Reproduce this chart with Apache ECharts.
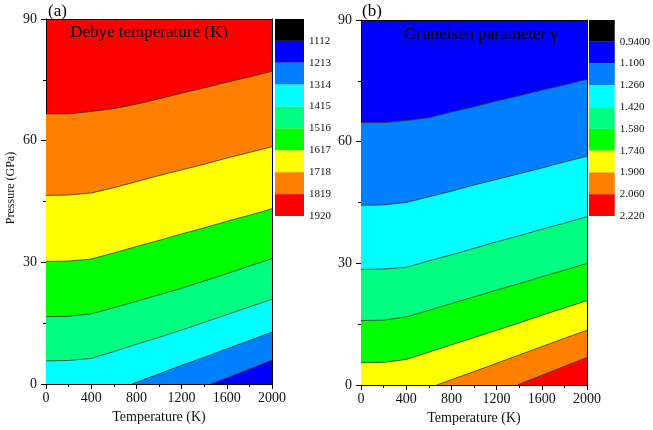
<!DOCTYPE html>
<html>
<head>
<meta charset="utf-8">
<script src="https://cdn.jsdelivr.net/npm/echarts@6/dist/echarts.min.js"></script>
<style>
  html, body { margin: 0; padding: 0; background: #fff; }
  #main { width: 653px; height: 430px; }
</style>
</head>
<body>
<div id="main"></div>
<script>
// 温度 (K)
const tempK = [0, 200, 400, 600, 800, 1000, 1200, 1400, 1600, 1800, 2000];

// 色标
const bandColors = ['#000000', '#0000ff', '#0080ff', '#00ffff', '#00ff80', '#00ff00', '#ffff00', '#ff8000', '#ff0000'];
const debyeLevels = ['1112', '1213', '1314', '1415', '1516', '1617', '1718', '1819', '1920'];
const gammaLevels = ['0.9400', '1.100', '1.260', '1.420', '1.580', '1.740', '1.900', '2.060', '2.220'];

// (a) Debye 温度等值线：每个温度下的压力 (GPa)
const debyeRedOrange    = [66.6, 66.6, 67.2, 67.9, 69.0, 70.3, 71.7, 73.0, 74.4, 75.7, 77.1];
const debyeOrangeYellow = [46.5, 46.6, 47.1, 48.4, 49.9, 51.4, 52.8, 54.2, 55.7, 57.1, 58.5];
const debyeYellowGreen  = [30.2, 30.3, 30.8, 32.3, 33.9, 35.4, 37.0, 38.5, 40.1, 41.6, 43.2];
const debyeGreenSpring  = [16.6, 16.7, 17.3, 18.8, 20.4, 22.0, 23.6, 25.4, 27.2, 29.1, 30.9];
const debyeSpringCyan   = [5.7, 5.8, 6.3, 8.0, 9.8, 11.5, 13.3, 15.2, 17.1, 19.0, 20.9];
const debyeCyanAzureT   = [760, 1000, 1200, 1400, 1600, 1800, 2000];
const debyeCyanAzureP   = [0, 2.5, 4.6, 6.6, 8.7, 10.7, 12.8];
const debyeAzureBlueT   = [1460, 1700, 2000];
const debyeAzureBlueP   = [0, 2.6, 5.9];

// (b) Gruneisen 参数等值线
const gammaBlueAzure    = [64.7, 64.7, 65.2, 65.9, 67.3, 68.6, 70.0, 71.3, 72.7, 74.0, 75.4];
const gammaAzureCyan    = [44.3, 44.4, 45.0, 46.4, 47.8, 49.3, 50.7, 52.1, 53.5, 55.0, 56.4];
const gammaCyanSpring   = [28.5, 28.6, 29.0, 30.6, 32.1, 33.7, 35.3, 36.8, 38.4, 39.9, 41.5];
const gammaSpringGreen  = [15.9, 16.0, 16.8, 18.4, 20.1, 21.7, 23.4, 25.0, 26.7, 28.3, 30.0];
const gammaGreenYellow  = [5.5, 5.6, 6.3, 8.1, 9.9, 11.7, 13.5, 15.3, 17.2, 19.0, 20.8];
const gammaYellowOrangeT = [670, 1000, 1400, 1800, 2000];
const gammaYellowOrangeP = [0, 3.3, 7.4, 11.5, 13.5];
const gammaOrangeRedT   = [1383, 1700, 2000];
const gammaOrangeRedP   = [0, 3.5, 6.8];

const FONT = '"Liberation Serif", "DejaVu Serif", serif';

var myChart = echarts.init(document.getElementById('main'));

// 等值线 + 下方填充
function contour(idx, ts, ps, fill) {
  return {
    type: 'line',
    xAxisIndex: idx,
    yAxisIndex: idx,
    data: ts.map((t, i) => [t, ps[i]]),
    showSymbol: false,
    silent: true,
    lineStyle: { color: '#333', width: 0.8 },
    areaStyle: { color: fill, opacity: 1, origin: 'start' }
  };
}

// 色标方块
function colorBar(idx, stackName) {
  return bandColors.map(c => ({
    type: 'bar',
    xAxisIndex: idx,
    yAxisIndex: idx,
    stack: stackName,
    barWidth: '100%',
    silent: true,
    data: [1],
    itemStyle: { color: c }
  }));
}

function plotX(grid, show) {
  return {
    type: 'value', gridIndex: grid, min: 0, max: 2000, interval: 400,
    position: show ? 'bottom' : 'top',
    axisLine: { show: true, onZero: false, lineStyle: { color: '#000', width: 1 } },
    axisTick: { show: show, length: 5, lineStyle: { color: '#000' } },
    minorTick: { show: show, splitNumber: 2, length: 3, lineStyle: { color: '#000' } },
    axisLabel: { show: show, margin: 7, fontFamily: FONT, fontSize: 14, color: '#111', formatter: v => String(v) },
    splitLine: { show: false },
    name: show ? 'Temperature (K)' : '',
    nameLocation: 'middle',
    nameGap: 26,
    nameTextStyle: { fontFamily: FONT, fontSize: 14, color: '#111' }
  };
}

function plotY(grid, show) {
  return {
    type: 'value', gridIndex: grid, min: 0, max: 90, interval: 30,
    position: show ? 'left' : 'right',
    axisLine: { show: true, onZero: false, lineStyle: { color: '#000', width: 1 } },
    axisTick: { show: show, length: 5, lineStyle: { color: '#000' } },
    minorTick: { show: show, splitNumber: 2, length: 3, lineStyle: { color: '#000' } },
    axisLabel: { show: show, margin: 9, fontFamily: FONT, fontSize: 14, color: '#111', formatter: v => String(v) },
    splitLine: { show: false }
  };
}

function barX(grid) {
  return { type: 'category', gridIndex: grid, data: ['c'], show: false };
}

function barY(grid, levels) {
  return {
    type: 'value', gridIndex: grid, min: 0, max: 9, interval: 1, inverse: true,
    position: 'right',
    axisLine: { show: false },
    axisTick: { show: false },
    splitLine: { show: false },
    axisLabel: {
      margin: 5, fontFamily: FONT, fontSize: 11, color: '#111',
      formatter: v => (v >= 1 ? levels[v - 1] : '')
    }
  };
}

var option = {
  backgroundColor: '#fff',
  animation: false,
  grid: [
    { left: 46, top: 19, width: 226, height: 365, show: true, backgroundColor: '#ff0000', borderWidth: 0 },
    { left: 46, top: 19, width: 226, height: 365 },
    { left: 361, top: 20, width: 226, height: 365, show: true, backgroundColor: '#0000ff', borderWidth: 0 },
    { left: 361, top: 20, width: 226, height: 365 },
    { left: 275, top: 19, width: 29, height: 197 },
    { left: 589, top: 20, width: 29, height: 196 }
  ],
  xAxis: [plotX(0, true), plotX(1, false), plotX(2, true), plotX(3, false), barX(4), barX(5)],
  yAxis: [plotY(0, true), plotY(1, false), plotY(2, true), plotY(3, false), barY(4, debyeLevels), barY(5, gammaLevels)],
  graphic: [
    { type: 'text', x: 48, y: 12, style: { text: '(a)', font: '17px ' + FONT, fill: '#000', textVerticalAlign: 'middle' } },
    { type: 'text', x: 362, y: 12, style: { text: '(b)', font: '17px ' + FONT, fill: '#000', textVerticalAlign: 'middle' } },
    { type: 'text', x: 149, y: 33, z: 100, style: { text: 'Debye temperature (K)', font: '17px ' + FONT, fill: '#000', textAlign: 'center', textVerticalAlign: 'middle' } },
    { type: 'text', x: 481, y: 35, z: 100, style: { text: 'Gruneisen parameter γ', font: '17px ' + FONT, fill: '#000', textAlign: 'center', textVerticalAlign: 'middle' } },
    { type: 'text', x: 11, y: 188, rotation: Math.PI / 2, style: { text: 'Pressure (GPa)', font: '12px ' + FONT, fill: '#111', textAlign: 'center', textVerticalAlign: 'middle' } }
  ],
  series: [
    contour(0, tempK, debyeRedOrange, '#ff8000'),
    contour(0, tempK, debyeOrangeYellow, '#ffff00'),
    contour(0, tempK, debyeYellowGreen, '#00ff00'),
    contour(0, tempK, debyeGreenSpring, '#00ff80'),
    contour(0, tempK, debyeSpringCyan, '#00ffff'),
    contour(0, debyeCyanAzureT, debyeCyanAzureP, '#0080ff'),
    contour(0, debyeAzureBlueT, debyeAzureBlueP, '#0000ff'),
    contour(2, tempK, gammaBlueAzure, '#0080ff'),
    contour(2, tempK, gammaAzureCyan, '#00ffff'),
    contour(2, tempK, gammaCyanSpring, '#00ff80'),
    contour(2, tempK, gammaSpringGreen, '#00ff00'),
    contour(2, tempK, gammaGreenYellow, '#ffff00'),
    contour(2, gammaYellowOrangeT, gammaYellowOrangeP, '#ff8000'),
    contour(2, gammaOrangeRedT, gammaOrangeRedP, '#ff0000')
  ].concat(colorBar(4, 'ca'), colorBar(5, 'cb'))
};

myChart.setOption(option);
</script>
</body>
</html>
